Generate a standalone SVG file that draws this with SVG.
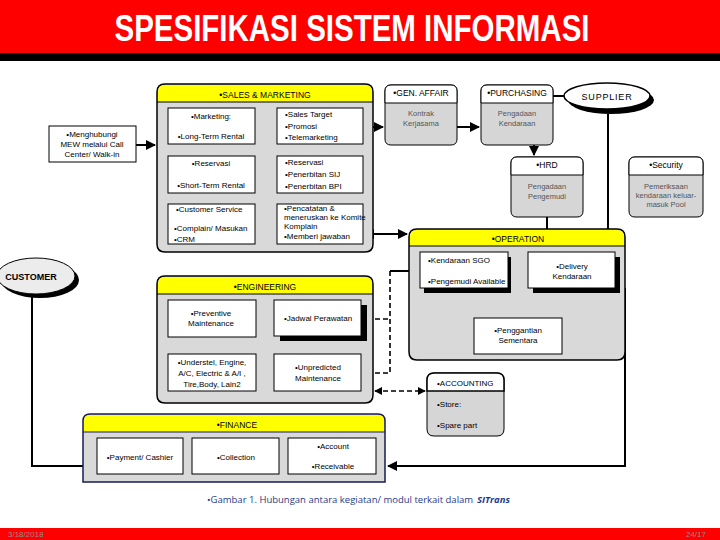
<svg xmlns="http://www.w3.org/2000/svg" width="720" height="540" viewBox="0 0 720 540">
<defs>
<marker id="ah" viewBox="0 0 10 10" refX="9" refY="5" markerWidth="5" markerHeight="5" orient="auto-start-reverse"><path d="M0,0 L10,5 L0,10 z" fill="#000"/></marker>
<style>
text{font-family:"Liberation Sans",Arial,sans-serif;fill:#000}
.t{font-size:8px}
.tc{font-size:8px;text-anchor:middle}
.g{font-size:7.5px;text-anchor:middle;fill:#555}
.hd{font-size:8.5px;text-anchor:middle}
.cont{fill:#d9d9d9;stroke:#000;stroke-width:1.5}
.yel{fill:#ffff00}
.box{fill:#fff;stroke:#000;stroke-width:1}
.sh{fill:#000}
.mod{fill:#d6d6d6;stroke:#000;stroke-width:1}
.ln{fill:none;stroke:#000;stroke-width:2}
.dl{fill:none;stroke:#000;stroke-width:1.6;stroke-dasharray:5,3}
.cap{font-size:9.5px;fill:#1f3a8a;font-family:"Open Sans","Liberation Sans",sans-serif}
</style>
</defs>
<rect x="0" y="0" width="720" height="540" fill="#fff"/>
<!-- header -->
<rect x="0" y="0" width="720" height="53" fill="#ff0000"/>
<rect x="0" y="53" width="720" height="8" fill="#000"/>
<text x="352" y="41" text-anchor="middle" font-size="36" font-weight="bold" textLength="475" lengthAdjust="spacingAndGlyphs" style="fill:#fff">SPESIFIKASI SISTEM INFORMASI</text>
<!-- footer -->
<rect x="0" y="528" width="720" height="12" fill="#ff0000"/>
<text x="8" y="537" font-size="8" style="fill:#8c8c8c">3/18/2018</text>
<text x="706" y="537" font-size="8" text-anchor="end" style="fill:#8c8c8c">24/17</text>
<text class="cap" x="207" y="503">•Gambar 1. Hubungan antara kegiatan/ modul terkait dalam</text>
<text class="cap" x="477" y="503" font-weight="bold" font-style="italic">SITrans</text>

<!-- connectors -->
<g id="connectors">
<path class="ln" d="M136,145 H155" marker-end="url(#ah)"/>
<path class="ln" d="M363,127 H383" marker-end="url(#ah)"/>
<path class="ln" d="M457,127 H479" marker-end="url(#ah)"/>
<path class="ln" d="M553,96 H565"/>
<path class="ln" d="M534,145 V155" marker-end="url(#ah)"/>
<path class="ln" d="M547,217 V250" marker-end="url(#ah)"/>
<path class="ln" d="M608,114 V250" marker-end="url(#ah)"/>
<path class="ln" d="M365,234 H407" marker-start="url(#ah)" marker-end="url(#ah)"/>
<path class="ln" d="M32,294 V466 H83"/>
<path class="ln" d="M625,288 V466 H388" marker-end="url(#ah)"/>
<path class="ln" d="M390,271 H418" stroke-width="1.6" marker-end="url(#ah)"/>
<path class="dl" d="M390,271 V373 H365" marker-end="url(#ah)"/>
<path class="dl" d="M367,319 H390"/>
<path class="ln" d="M258,373 H272" stroke-width="1.6" marker-start="url(#ah)" marker-end="url(#ah)"/>
<path class="dl" d="M375,391 H425" marker-start="url(#ah)" marker-end="url(#ah)"/>
</g>

<!-- customer -->
<g id="customer">
<ellipse cx="40" cy="280" rx="39" ry="18" fill="#000"/>
<ellipse cx="36" cy="276" rx="39" ry="18" fill="#ececec" stroke="#000" stroke-width="1"/>
<text x="31" y="280" font-size="9" font-weight="bold" text-anchor="middle">CUSTOMER</text>
</g>

<g id="menghubungi">
<rect class="box" x="49" y="126" width="87" height="36"/>
<text class="tc" x="92" y="137">•Menghubungi</text>
<text class="tc" x="92" y="147">MEW melalui Call</text>
<text class="tc" x="92" y="157">Center/ Walk-in</text>
</g>

<!-- sales & marketing -->
<g id="sales">
<path class="cont" d="M157,92 Q157,84 165,84 H365 Q373,84 373,92 V244 Q373,252 365,252 H165 Q157,252 157,244 Z"/>
<path class="yel" d="M158,92 Q158,85 165,85 H365 Q372,85 372,92 V102 H158 Z"/>
<line x1="157" y1="102" x2="373" y2="102" stroke="#000" stroke-width="1"/>
<text class="hd" x="265" y="98">•SALES &amp; MARKETING</text>
<rect class="box" x="168" y="108" width="87" height="36"/>
<text class="tc" x="211" y="119">•Marketing:</text>
<text class="tc" x="211" y="139">•Long-Term Rental</text>
<rect class="box" x="277" y="108" width="86" height="36"/>
<text class="t" x="285" y="117">•Sales Target</text>
<text class="t" x="285" y="129">•Promosi</text>
<text class="t" x="285" y="140">•Telemarketing</text>
<rect class="box" x="168" y="156" width="87" height="37"/>
<text class="tc" x="211" y="166">•Reservasi</text>
<text class="tc" x="211" y="188">•Short-Term Rental</text>
<rect class="box" x="277" y="156" width="86" height="37"/>
<text class="t" x="285" y="165">•Reservasi</text>
<text class="t" x="285" y="177">•Penerbitan SIJ</text>
<text class="t" x="285" y="189">•Penerbitan BPI</text>
<rect class="box" x="168" y="204" width="87" height="40"/>
<text class="t" x="176" y="212">•Customer Service</text>
<text class="t" x="174" y="231" font-size="7">•Complain/ Masukan</text>
<text class="t" x="174" y="242" font-size="7">•CRM</text>
<rect class="box" x="277" y="204" width="86" height="40"/>
<text class="t" x="284" y="211" font-size="7">•Pencatatan &amp;</text>
<text class="t" x="284" y="220" font-size="7">meneruskan ke Komite</text>
<text class="t" x="284" y="229" font-size="7">Komplain</text>
<text class="t" x="284" y="239" font-size="7">•Memberi jawaban</text>
</g>

<!-- gen affair -->
<g id="genaffair">
<path class="mod" d="M385,91 Q385,85 391,85 H451 Q457,85 457,91 V139 Q457,145 451,145 H391 Q385,145 385,139 Z"/>
<path d="M385,103 V91 Q385,85 391,85 H451 Q457,85 457,91 V103 Z" fill="#fff" stroke="#000" stroke-width="1"/>
<text class="hd" x="421" y="96" font-size="8">•GEN. AFFAIR</text>
<text class="g" x="421" y="116">Kontrak</text>
<text class="g" x="421" y="126">Kerjasama</text>
</g>
<g id="purchasing">
<path class="mod" d="M481,91 Q481,85 487,85 H547 Q553,85 553,91 V139 Q553,145 547,145 H487 Q481,145 481,139 Z"/>
<path d="M481,103 V91 Q481,85 487,85 H547 Q553,85 553,91 V103 Z" fill="#fff" stroke="#000" stroke-width="1"/>
<text class="hd" x="517" y="96" font-size="8">•PURCHASING</text>
<text class="g" x="517" y="116">Pengadaan</text>
<text class="g" x="517" y="126">Kendaraan</text>
</g>
<g id="supplier">
<ellipse cx="611" cy="100" rx="43" ry="14" fill="#000"/>
<ellipse cx="607" cy="96" rx="43" ry="13" fill="#fff" stroke="#000" stroke-width="1.5"/>
<text x="607" y="100" font-size="9" text-anchor="middle" letter-spacing="0.8">SUPPLIER</text>
</g>
<g id="hrd">
<path class="mod" d="M511,163 Q511,157 517,157 H577 Q583,157 583,163 V211 Q583,217 577,217 H517 Q511,217 511,211 Z"/>
<path d="M511,175 V163 Q511,157 517,157 H577 Q583,157 583,163 V175 Z" fill="#fff" stroke="#000" stroke-width="1"/>
<text class="hd" x="547" y="168" font-size="7.5">•HRD</text>
<text class="g" x="547" y="189">Pengadaan</text>
<text class="g" x="547" y="199">Pengemudi</text>
</g>
<g id="security">
<path class="mod" d="M629,163 Q629,157 635,157 H697 Q703,157 703,163 V211 Q703,217 697,217 H635 Q629,217 629,211 Z"/>
<path d="M629,175 V163 Q629,157 635,157 H697 Q703,157 703,163 V175 Z" fill="#fff" stroke="#000" stroke-width="1"/>
<text class="hd" x="666" y="168" font-size="7">•Security</text>
<text class="g" x="666" y="189" font-size="7">Pemeriksaan</text>
<text class="g" x="666" y="198" font-size="7">kendaraan keluar-</text>
<text class="g" x="666" y="207" font-size="7">masuk Pool</text>
</g>

<!-- operation -->
<g id="operation">
<path class="cont" d="M409,237 Q409,229 417,229 H617 Q625,229 625,237 V352 Q625,360 617,360 H417 Q409,360 409,352 Z"/>
<path class="yel" d="M410,237 Q410,230 417,230 H617 Q624,230 624,237 V246 H410 Z"/>
<line x1="409" y1="246" x2="625" y2="246" stroke="#000" stroke-width="1"/>
<text class="hd" x="518" y="242">•OPERATION</text>
<rect class="sh" x="424" y="257" width="87" height="36"/>
<rect class="box" x="420" y="252" width="88" height="36"/>
<text class="t" x="428" y="263">•Kendaraan SGO</text>
<text class="t" x="428" y="284" font-size="7">•Pengemudi Available</text>
<rect class="sh" x="533" y="257" width="87" height="36"/>
<rect class="box" x="528" y="252" width="87" height="36"/>
<text class="tc" x="572" y="269">•Delivery</text>
<text class="tc" x="572" y="279">Kendaraan</text>
<rect class="box" x="474" y="318" width="88" height="36"/>
<text class="tc" x="518" y="333">•Penggantian</text>
<text class="tc" x="518" y="343">Sementara</text>
</g>

<!-- engineering -->
<g id="engineering">
<path class="cont" d="M157,284 Q157,276 165,276 H365 Q373,276 373,284 V395 Q373,403 365,403 H165 Q157,403 157,395 Z"/>
<path class="yel" d="M158,284 Q158,277 165,277 H365 Q372,277 372,284 V294 H158 Z"/>
<line x1="157" y1="294" x2="373" y2="294" stroke="#000" stroke-width="1"/>
<text class="hd" x="265" y="290">•ENGINEERING</text>
<rect class="box" x="168" y="300" width="88" height="37"/>
<text class="tc" x="211" y="316">•Preventive</text>
<text class="tc" x="211" y="326">Maintenance</text>
<rect class="sh" x="280" y="305" width="87" height="36"/>
<rect class="box" x="274" y="300" width="87" height="36"/>
<text class="tc" x="318" y="321">•Jadwal Perawatan</text>
<rect class="box" x="168" y="354" width="88" height="37"/>
<text class="tc" x="212" y="365" font-size="7.5">•Understel, Engine,</text>
<text class="tc" x="212" y="376" font-size="7.5">A/C, Electric &amp; A/I ,</text>
<text class="tc" x="212" y="387" font-size="7.5">Tire,Body, Lain2</text>
<rect class="box" x="274" y="354" width="87" height="37"/>
<text class="tc" x="318" y="370">•Unpredicted</text>
<text class="tc" x="318" y="381">Maintenance</text>
</g>

<!-- accounting -->
<g id="accounting">
<path class="mod" d="M427,380 Q427,373 434,373 H497 Q504,373 504,380 V429 Q504,436 497,436 H434 Q427,436 427,429 Z" stroke-width="1.5"/>
<path d="M427,391 V380 Q427,373 434,373 H497 Q504,373 504,380 V391 Z" fill="#fff" stroke="#000" stroke-width="1.5"/>
<text class="t" x="437" y="386">•ACCOUNTING</text>
<text class="t" x="437" y="407">•Store:</text>
<text class="t" x="437" y="428">•Spare part</text>
</g>

<!-- finance -->
<g id="finance">
<path d="M83,421 Q83,414 90,414 H378 Q385,414 385,421 V482 H83 Z" fill="#d9d9d9" stroke="#1a1a5a" stroke-width="1.5"/>
<path class="yel" d="M84,421 Q84,415 90,415 H378 Q384,415 384,421 V432 H84 Z"/>
<line x1="83" y1="432" x2="385" y2="432" stroke="#1a1a5a" stroke-width="1"/>
<text class="hd" x="237" y="428">•FINANCE</text>
<rect class="box" x="97" y="438" width="86" height="36"/>
<text class="tc" x="140" y="460">•Payment/ Cashier</text>
<rect class="box" x="192" y="438" width="87" height="36"/>
<text class="tc" x="236" y="460">•Collection</text>
<rect class="box" x="288" y="438" width="88" height="36"/>
<text class="tc" x="333" y="449">•Account</text>
<text class="tc" x="333" y="469">•Receivable</text>
</g>
</svg>
